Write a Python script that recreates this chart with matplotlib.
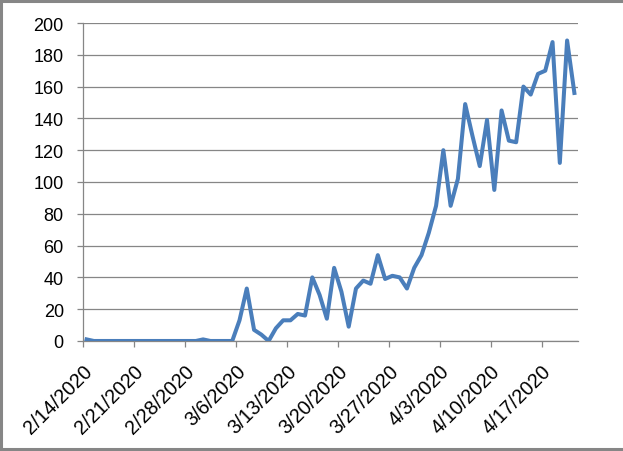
import matplotlib
matplotlib.use("Agg")
import matplotlib.pyplot as plt
import matplotlib.dates as mdates
from matplotlib.lines import Line2D
import pandas as pd

# daily counts, 2/14/2020 .. 4/21/2020
start_date = "2020-02-14"
counts = [
    1, 0, 0, 0, 0, 0, 0, 0, 0, 0, 0, 0, 0, 0, 0, 0, 1, 0, 0, 0,
    0, 13, 33, 7, 4, 0, 8, 13, 13, 17, 16, 40, 29, 14, 46, 31, 9, 33, 38, 36,
    54, 39, 41, 40, 33, 46, 54, 68, 85, 120, 85, 102, 149, 129, 110, 139, 95, 145, 126, 125,
    160, 155, 168, 170, 188, 112, 189, 156,
]
y_ticks = list(range(0, 201, 20))

dates = pd.date_range(start_date, periods=len(counts), freq="D")
grey = "#868686"

fig = plt.figure(figsize=(6.23, 4.52), dpi=100)
ax = fig.add_axes([0.1332, 0.2434, 0.7946, 0.7035])

# Excel "between tick marks": each point sits in the middle of its day
ax.plot(dates + pd.Timedelta(hours=12), counts, color="#4A7EBB", lw=2.9,
        solid_joinstyle="round", zorder=3)

ax.set_xlim(dates[0], dates[-1] + pd.Timedelta(days=1))
ax.set_ylim(0, 200)
ax.set_yticks(y_ticks)
ax.set_xticks(pd.date_range(start_date, dates[-1], freq="7D"))
ax.xaxis.set_major_formatter(
    plt.FuncFormatter(lambda v, p: "{0.month}/{0.day}/{0.year}".format(mdates.num2date(v))))

ax.grid(axis="y", color=grey, lw=0.9)
ax.set_axisbelow(True)
for s in ["top", "right"]:
    ax.spines[s].set_visible(False)
for s in ["left", "bottom"]:
    ax.spines[s].set_color(grey)
    ax.spines[s].set_linewidth(0.9)

ax.tick_params(axis="both", colors=grey, length=4.3, width=0.9, labelcolor="black",
               labelsize=13)
ax.tick_params(axis="y", pad=9.5)
ax.tick_params(axis="x", pad=10, labelsize=14.2)
for lbl in ax.get_xticklabels() + ax.get_yticklabels():
    lbl.set_fontfamily("Liberation Sans")
for lbl in ax.get_xticklabels():
    lbl.set_rotation(45)
    lbl.set_ha("right")
    lbl.set_va("top")
    lbl.set_rotation_mode("anchor")

# chart-area border (left, top, bottom)
for xs, ys in [([0.002, 0.002], [0, 1]), ([0, 1], [0.996, 0.996]), ([0, 1], [0.005, 0.005])]:
    fig.add_artist(Line2D(xs, ys, transform=fig.transFigure, color=grey, lw=2.2))

fig.savefig("out.png", dpi=100)
